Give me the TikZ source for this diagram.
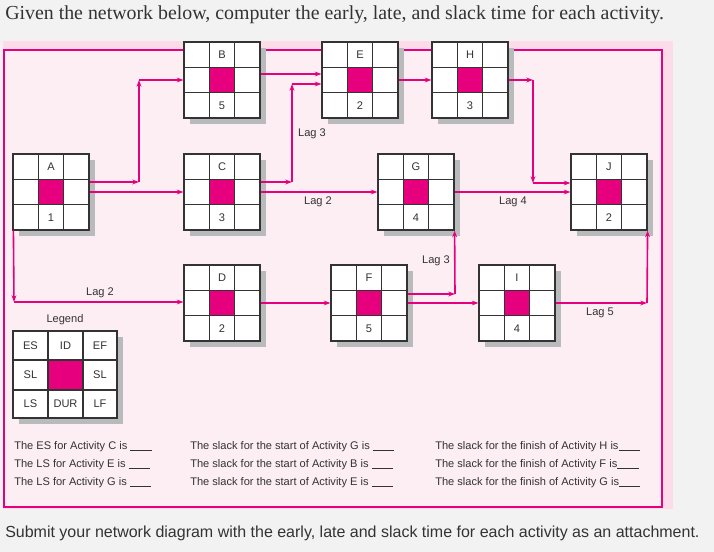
\documentclass[tikz,border=0pt]{standalone}
\usepackage{fontspec}
\setmainfont{Liberation Sans}
\newfontfamily\serifff{Liberation Serif}
\usetikzlibrary{arrows.meta,calc}
\definecolor{mag}{HTML}{E6007E}
\definecolor{pagebg}{HTML}{F2F2F2}
\definecolor{band}{HTML}{FBDCE8}
\definecolor{inner}{HTML}{FDEEF4}
\definecolor{shad}{HTML}{B8BABC}
\definecolor{txt}{HTML}{333333}
\tikzset{
 box/.style={draw=txt,line width=0.9pt,fill=white,minimum size=57pt,inner sep=0pt},
 conn/.style={draw=mag,line width=1.2pt,-{Stealth[length=5pt,width=3.6pt]}},
 lbl/.style={font=\fontsize{8.3}{10}\selectfont,text=txt,inner sep=0pt},
 qtxt/.style={font=\fontsize{8.3}{10}\selectfont,text=txt,anchor=west,inner sep=0pt},
}
\newcommand\actbox[5]{%
 \fill[shad] (#2-38+6,#3-38+6) rectangle ++(76,76);
 \node[box] (#1) at (#2,#3) {};
 \fill[mag] (#2-12.67,#3-12.67) rectangle (#2+12.67,#3+12.67);
 \draw[txt,line width=0.9pt] (#2-12.67,#3-38) -- (#2-12.67,#3+38) (#2+12.67,#3-38) -- (#2+12.67,#3+38)
   (#2-38,#3-12.67) -- (#2+38,#3-12.67) (#2-38,#3+12.67) -- (#2+38,#3+12.67);
 \node[lbl] (#1-id) at (#2,#3-25.33) {#4};
 \node[lbl] (#1-dur) at (#2,#3+25.33) {#5};
}
\begin{document}
\begin{tikzpicture}[x=0.75pt,y=-0.75pt]
\fill[pagebg] (0,0) rectangle (714,552);
\useasboundingbox (0,0) rectangle (714,552);
\fill[band] (3,41) rectangle (673,509);
\draw[mag,line width=0.9pt,fill=inner] (4,50) rectangle (662,507);
\node[anchor=west,inner sep=0pt,font=\serifff\fontsize{14.9}{16}\selectfont,text=txt] (title) at (5,15) {Given the network below, computer the early, late, and slack time for each activity.};
\node[anchor=west,inner sep=0pt,font=\fontsize{12}{14}\selectfont,text=txt] (foot) at (5,533) {Submit your network diagram with the early, late and slack time for each activity as an attachment.};

\actbox{A}{51}{192}{A}{1}
\actbox{B}{222}{80}{B}{5}
\actbox{C}{222}{192}{C}{3}
\actbox{E}{360}{80}{E}{2}
\actbox{H}{470}{80}{H}{3}
\actbox{G}{416}{192}{G}{4}
\actbox{J}{609}{192}{J}{2}
\actbox{D}{222}{303}{D}{2}
\actbox{F}{369}{303}{F}{5}
\actbox{I}{517}{303}{I}{4}

% legend
\fill[shad] (19,337) rectangle (123,424);
\draw[txt,line width=0.9pt,fill=white] (13,331) rectangle (117,418);
\fill[mag] (48,360) rectangle (83,390);
\draw[txt,line width=0.9pt] (48,331)--(48,418) (83,331)--(83,418) (13,360)--(117,360) (13,390)--(117,390);
\node[lbl] (legend) at (65,320) {Legend};
\node[lbl] at (30.5,345.5) {ES};
\node[lbl] at (65.5,345.5) {ID};
\node[lbl] at (100,345.5) {EF};
\node[lbl] at (30.5,375) {SL};
\node[lbl] at (100,375) {SL};
\node[lbl] at (30.5,404) {LS};
\node[lbl] at (65.5,404) {DUR};
\node[lbl] at (100,404) {LF};

% connectors
\coordinate (ab1) at (139,182);
\coordinate (ab2) at (139,80);
\draw[conn] ($(A.east)+(0,-10)$) -- (ab1);
\draw[conn] (ab1) -- (ab2);
\draw[conn] (ab2) -- (B.west|-ab2);
\draw[conn] (A.east) -- (C.west);
\draw[conn] ($(B.east)+(0,-6)$) -- ($(E.west)+(0,-6)$);
\coordinate (ce1) at (292,182);
\coordinate (ce2) at (292,84);
\draw[conn] ($(C.east)+(0,-10)$) -- (ce1);
\draw[conn] (ce1) -- (ce2);
\draw[conn] (ce2) -- (E.west|-ce2);
\node[lbl] at (312,134) {Lag 3};
\draw[conn] (C.east) -- (G.west);
\node[lbl] at (318,202) {Lag 2};
\draw[conn] (E.east) -- (H.west);
\coordinate (hj1) at (533,80);
\coordinate (hj2) at (533,183);
\draw[conn] (H.east) -- (hj1);
\draw[conn] (hj1) -- (hj2);
\draw[conn] (hj2) -- (J.west|-hj2);
\draw[conn] (G.east) -- (J.west);
\node[lbl] at (513,202) {Lag 4};
\coordinate (ad1) at (14,302);
\draw[conn] (A.south west) ++(1,0) -- (ad1);
\draw[conn] (ad1) -- (D.west|-ad1);
\node[lbl] at (100,293) {Lag 2};
\draw[conn] (D.east) -- (F.west);
\coordinate (fg1) at (455,294);
\draw[conn] ($(F.east)+(0,-9)$) -- (fg1);
\draw[conn] (fg1) -- (G.south east);
\node[lbl] at (436,261) {Lag 3};
\draw[conn] (F.east) -- (I.west);
\coordinate (ij1) at (647,303);
\draw[conn] (I.east) -- (ij1);
\draw[conn] (ij1) -- (J.south east);
\node[lbl] at (600,313) {Lag 5};

% questions
\foreach \y/\t in {447/The ES for Activity C is, 465/The LS for Activity E is, 483/The LS for Activity G is}
  {\node[qtxt] at (14,\y) {\t\ \rule[-0.5pt]{16pt}{0.6pt}};}
\foreach \y/\t in {447/The slack for the start of Activity G is, 465/The slack for the start of Activity B is, 483/The slack for the start of Activity E is}
  {\node[qtxt] at (190,\y) {\t\ \rule[-0.5pt]{16pt}{0.6pt}};}
\foreach \y/\t in {447/The slack for the finish of Activity H is, 465/The slack for the finish of Activity F is, 483/The slack for the finish of Activity G is}
  {\node[qtxt] at (435,\y) {\t\rule[-0.5pt]{16pt}{0.6pt}};}
\end{tikzpicture}
\end{document}
